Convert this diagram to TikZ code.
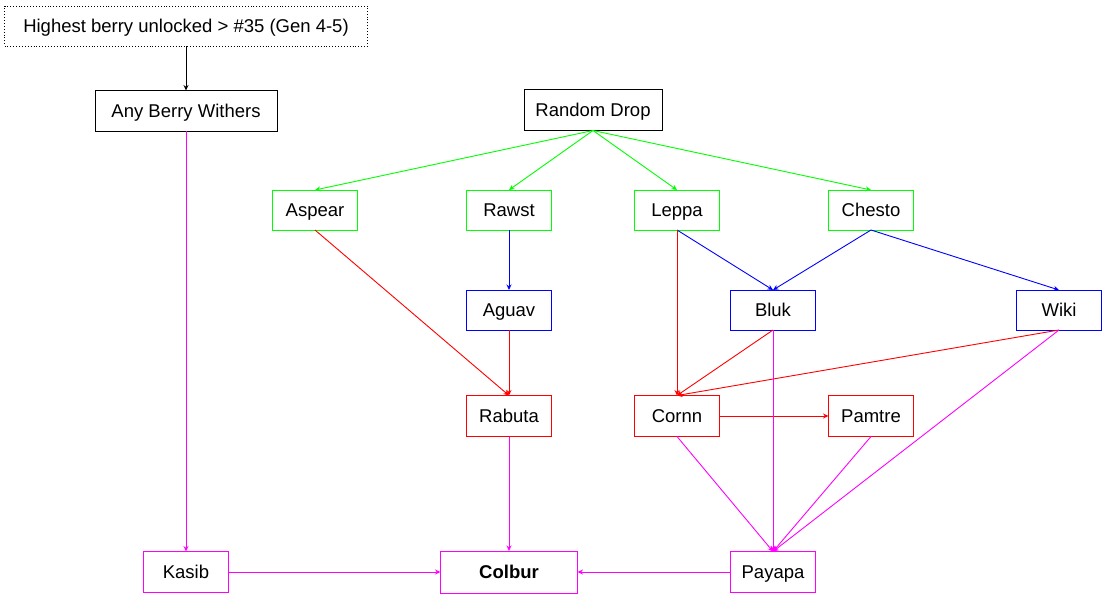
\documentclass[tikz,border=0pt]{standalone}
\usepackage{fontspec}
\setmainfont{Liberation Sans}
\usetikzlibrary{positioning,arrows.meta}
\definecolor{berrygreen}{RGB}{0,255,0}
\definecolor{berryblue}{RGB}{0,0,255}
\definecolor{berryred}{RGB}{255,0,0}
\definecolor{berrypink}{RGB}{255,0,255}

\begin{document}
\begin{tikzpicture}[->,>={Stealth[length=5.5pt,width=5pt]},x=1pt,y=-1pt,line width=0.9pt,font=\fontsize{18.5}{22}\selectfont,berry node/.style={draw,minimum width=85pt,minimum height=40pt,inner sep=2pt,outer sep=0pt,text height=13.6pt,text depth=0.4pt},green node/.style={berry node,draw=berrygreen},blue node/.style={berry node,draw=berryblue},red node/.style={berry node,draw=berryred},pink node/.style={berry node,draw=berrypink}]
                \useasboundingbox (0,0) rectangle (1105,596);
                \node[berry node,dotted,minimum width=363pt] (gate) at (186,26) {Highest berry unlocked > \#35 (Gen 4-5)};
                \node[berry node,minimum width=182pt,minimum height=41pt] (withers) at (186,111) {Any Berry Withers};
                \node[berry node,minimum width=138pt,minimum height=41pt] (drop) at (593,110) {Random Drop};

                \node[green node] (aspear) at (315,210) {Aspear};
                \node[green node] (rawst) [right=109pt of aspear] {Rawst};
                \node[green node] (leppa) [right=83pt of rawst] {Leppa};
                \node[green node] (chesto) [right=109pt of leppa] {Chesto};

                \node[blue node] (aguav) [below=60pt of rawst] {Aguav};
                \node[blue node] (bluk) at (773,310) {Bluk};
                \node[blue node] (wiki) at (1059,310) {Wiki};

                \node[red node,minimum height=41pt] (rabuta) at (509,416) {Rabuta};
                \node[red node,minimum height=41pt] (cornn) at (677,416) {Cornn};
                \node[red node,minimum height=41pt] (pamtre) [right=109pt of cornn] {Pamtre};

                \node[pink node,minimum height=41pt] (kasib) at (186,572) {Kasib};
                \node[pink node,minimum width=137pt,minimum height=42pt,font=\fontsize{18.5}{22}\selectfont\bfseries] (colbur) at (509,572) {Colbur};
                \node[pink node,minimum height=41pt] (payapa) at (773,572) {Payapa};

                \path (gate) edge (withers);

                \path[berrygreen]
                    (drop.south) edge (aspear.north)
                    (drop.south) edge (rawst.north)
                    (drop.south) edge (leppa.north)
                    (drop.south) edge (chesto.north)
                    ;
                \path[berryblue]
                    (rawst) edge (aguav)
                    (leppa.south) edge (bluk.north)
                    (chesto.south) edge (bluk.north)
                    (chesto.south) edge (wiki.north)
                    ;
                \path[berryred]
                    (aspear.south) edge (rabuta.north)
                    (aguav) edge (rabuta)
                    (leppa) edge (cornn)
                    (bluk.south) edge (cornn.north)
                    (wiki.south) edge (cornn.north)
                    (cornn) edge (pamtre)
                    ;
                \path[berrypink]
                    (withers) edge (kasib)
                    (rabuta) edge (colbur)
                    (cornn.south) edge (payapa.north)
                    (bluk.south) edge (payapa.north)
                    (pamtre.south) edge (payapa.north)
                    (wiki.south) edge (payapa.north)
                    (kasib.east) edge (colbur.west)
                    (payapa) edge (colbur)
                    ;
            \end{tikzpicture}
\end{document}
